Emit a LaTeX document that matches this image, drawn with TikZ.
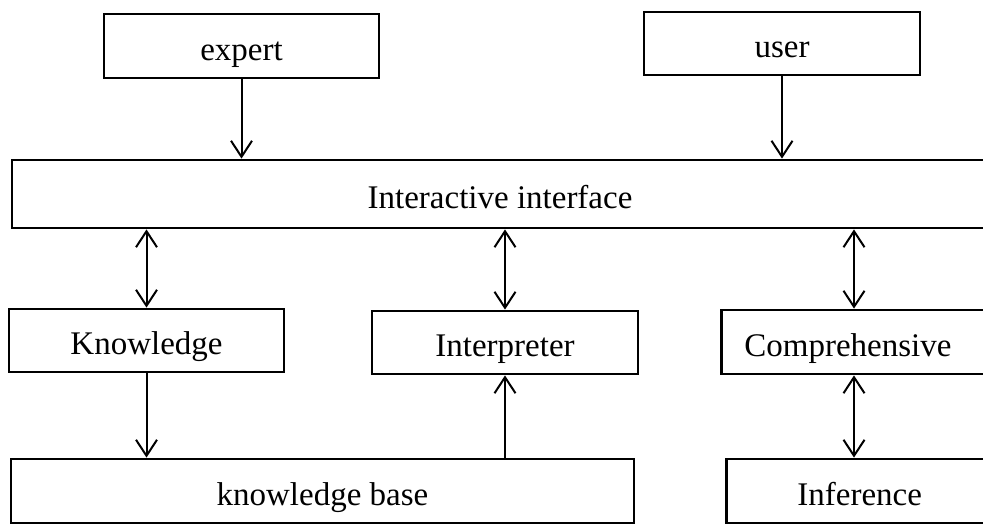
\documentclass[tikz,border=0pt]{standalone}
\usepackage{fontspec}
\setmainfont{Liberation Serif}
\usetikzlibrary{arrows.meta,calc}
\tikzset{
  blk/.style={draw, line width=1.4pt, font=\fontsize{16.5}{19}\selectfont, inner sep=0pt, text height=14.4pt, text depth=0pt},
  cut/.style={blk, anchor=west, align=left},
  fl/.style={-{Straight Barb[length=8pt,width=10.5pt]}, line width=1pt},
  dfl/.style={{Straight Barb[length=8pt,width=10.5pt]}-{Straight Barb[length=8pt,width=10.5pt]}, line width=1pt},
}
\begin{document}
\begin{tikzpicture}[x=0.5pt,y=-0.5pt]
\clip (0,0) rectangle (983,525);
% top row
\node[blk, minimum width=137.5pt, minimum height=32pt] (exp) at (241.5,46) {expert};
\node[blk, minimum width=138pt, minimum height=31.5pt] (usr) at (782,43.5) {user};
\node[blk, minimum width=488pt, minimum height=34pt] (ifc) at (500,194) {Interactive interface};
% middle row
\node[blk, minimum width=137.5pt, minimum height=31.5pt] (knw) at (146.5,340.5) {Knowledge};
\node[blk, minimum width=133pt, minimum height=31.5pt] (itp) at (505,342.5) {Interpreter};
\node[cut, minimum height=32pt, text width=120pt, inner xsep=11.5pt] (cmp) at (720,342) {Comprehensive};
% bottom row
\node[blk, minimum width=311.5pt, minimum height=32pt] (kb) at (322.5,491) {knowledge base};
\node[cut, minimum height=32pt, text width=100pt, inner xsep=35.5pt] (inf) at (725,491) {Inference};
\coordinate (cmpx) at ($(cmp.west)+(134,0)$);
\draw[fl] (exp.south) -- (exp.south |- ifc.north);
\draw[fl] (usr.south) -- (usr.south |- ifc.north);
\draw[dfl] (knw.north |- ifc.south) -- (knw.north);
\draw[dfl] (itp.north |- ifc.south) -- (itp.north);
\draw[dfl] (cmpx |- ifc.south) -- (cmpx |- cmp.north);
\draw[fl] (knw.south) -- (knw.south |- kb.north);
\draw[fl] (itp.south |- kb.north) -- (itp.south);
\draw[dfl] (cmpx |- cmp.south) -- (cmpx |- inf.north);
\end{tikzpicture}
\end{document}
